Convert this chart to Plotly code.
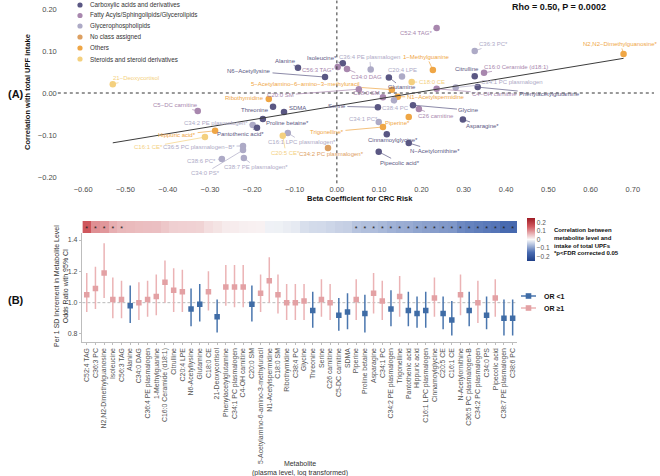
import numpy as np
import plotly.graph_objects as go

# ---------------- data ----------------
metabolites = [
    "C52:4 TAG", "C36:3 PC", "N2,N2-Dimethylguanosine", "Isoleucine", "C56:3 TAG",
    "Alanine", "C34:0 DAG", "C36:4 PE plasmalogen", "1-Methylguanine", "C16:0 Ceramide (d18:1)",
    "Citrulline", "C20:4 LPE", "N6-Acetyllysine", "Glutamine", "C18:0 CE",
    "21-Deoxycortisol", "Phenylacetylglutamine", "C34:1 PC plasmalogen", "C4-OH carnitine", "C20:0 SM",
    "5-Acetylamino-6-amino-3-methyluracil", "N1-Acetylspermidine", "C18:0 SM", "Ribothymidine", "C38:4 PC",
    "Glycine", "Threonine", "Serine", "C26 carnitine", "C5-DC carnitine",
    "SDMA", "Piperine", "Proline betaine", "Asparagine", "C34:1 PC",
    "C34:2 PE plasmalogen", "Trigonelline", "Pantothenic acid", "Hippuric acid", "C16:1 LPC plasmalogen",
    "Cinnamoylglycine", "C20:5 CE", "C16:1 CE", "N-Acetylornithine", "C36:5 PC plasmalogen-B",
    "C34:2 PC plasmalogen", "C34:0 PS", "Pipecolic acid", "C38:7 PE plasmalogen", "C38:6 PC",
]
metabolite_class = [
    "F", "G", "O", "C", "F",
    "C", "F", "G", "O", "F",
    "C", "G", "C", "C", "S",
    "S", "C", "G", "F", "F",
    "O", "O", "F", "O", "G",
    "C", "C", "C", "F", "F",
    "C", "O", "C", "C", "G",
    "G", "O", "C", "O", "G",
    "C", "S", "S", "C", "G",
    "N", "G", "C", "G", "G",
]
beta_crc = [
    0.236, 0.326, 0.678, 0.014, 0.002,
    -0.092, 0.024, 0.080, 0.227, 0.348,
    0.326, 0.154, -0.028, 0.123, 0.177,
    -0.530, 0.333, 0.281, 0.236, 0.052,
    0.130, 0.144, 0.109, -0.161, 0.135,
    0.180, -0.151, 0.097, 0.194, -0.329,
    -0.125, 0.170, -0.175, 0.298, 0.099,
    -0.199, 0.109, -0.189, -0.288, -0.116,
    0.118, -0.128, -0.312, 0.170, -0.222,
    -0.021, -0.222, 0.099, -0.220, -0.272,
]
corr_upf = [
    0.155, 0.100, 0.093, 0.071, 0.062,
    0.060, 0.057, 0.056, 0.055, 0.048,
    0.040, 0.039, 0.038, 0.037, 0.026,
    0.021, 0.014, 0.013, 0.010, 0.009,
    0.008, -0.009, -0.010, -0.014, -0.017,
    -0.029, -0.033, -0.034, -0.038, -0.043,
    -0.045, -0.057, -0.062, -0.063, -0.069,
    -0.076, -0.081, -0.083, -0.090, -0.095,
    -0.098, -0.102, -0.105, -0.119, -0.126,
    -0.131, -0.136, -0.140, -0.155, -0.157,
]
significant = [True] * 5 + [False] * 26 + [True] * 19
odds_ratio = [
    1.05, 1.09, 1.19, 1.02, 1.02, 0.98, 1.00, 1.02, 1.04, 1.13,
    1.08, 1.07, 0.96, 0.99, 1.07, 0.91, 1.10, 1.10, 1.10, 0.99,
    1.06, 1.14, 1.05, 1.00, 1.00, 1.01, 0.95, 1.02, 1.00, 0.92,
    0.94, 1.02, 0.93, 1.06, 1.01, 0.96, 1.04, 0.95, 0.93, 0.95,
    1.03, 0.93, 0.89, 1.05, 0.95, 1.00, 0.92, 1.03, 0.90, 0.90,
]
or_lower = [
    0.94, 0.96, 1.03, 0.90, 0.90, 0.87, 0.89, 0.91, 0.92, 1.00,
    0.94, 0.94, 0.85, 0.88, 0.95, 0.81, 0.98, 0.97, 0.97, 0.88,
    0.94, 1.00, 0.93, 0.89, 0.89, 0.89, 0.84, 0.91, 0.89, 0.82,
    0.83, 0.89, 0.81, 0.93, 0.89, 0.85, 0.91, 0.85, 0.84, 0.84,
    0.91, 0.83, 0.79, 0.92, 0.85, 0.87, 0.83, 0.91, 0.79, 0.79,
]
or_upper = [
    1.19, 1.23, 1.38, 1.16, 1.14, 1.11, 1.13, 1.14, 1.18, 1.27,
    1.22, 1.21, 1.09, 1.12, 1.20, 1.02, 1.24, 1.24, 1.24, 1.11,
    1.18, 1.29, 1.18, 1.12, 1.12, 1.12, 1.07, 1.15, 1.12, 1.03,
    1.06, 1.15, 1.05, 1.19, 1.14, 1.08, 1.17, 1.07, 1.04, 1.07,
    1.16, 1.04, 1.01, 1.18, 1.07, 1.14, 1.04, 1.15, 1.02, 1.02,
]
class_codes = ["C", "F", "G", "N", "O", "S"]
class_names = [
    "Carboxylic acids and derivatives",
    "Fatty Acyls/Sphingolipids/Glycerolipids",
    "Glycerophospholipids",
    "No class assigned",
    "Others",
    "Steroids and steroid derivatives",
]
stat_text = "Rho = 0.50, P = 0.0002"
x_ticks_a = [-0.6, -0.5, -0.4, -0.3, -0.2, -0.1, 0.0, 0.1, 0.2, 0.3, 0.4, 0.5, 0.6, 0.7]
y_ticks_a = [-0.2, -0.1, 0.0, 0.1, 0.2]
y_ticks_b = [0.8, 1.0, 1.2, 1.4]
cbar_ticks = [-0.2, -0.1, 0.0, 0.1, 0.2]

# ---------------- styling ----------------
W, H = 660, 476
FONT = "Liberation Sans, Arial, sans-serif"
class_colors = {"C": "#5A5783", "F": "#A887AE", "G": "#ADAAC6",
                "N": "#DDA062", "O": "#EFA645", "S": "#F4D07E"}
col_low, col_high = "#3F6CA6", "#E3A1A4"
whisk_low, whisk_high = "#4A76AE", "#EBB3B5"

# label offsets (pixels, label centre relative to point)
label_offsets = [
    (-21, 5), (19, -7), (-3, -10), (-21, -5), (-20, 3),
    (-12, -7), (19, 8), (-1, -12), (-6, -13), (32, -6),
    (-8, -7), (1, -7), (-76, -6), (13, 10), (20, 0),
    (23, -6), (72, 7), (56, -6), (58, 5), (-78, 6),
    (-86, -6), (38, 0), (-16, -4), (-24, -1), (2, 8),
    (56, 5), (-18, 3), (-41, -1), (17, 7), (-22, -6),
    (13, -4), (-11, 6), (25, 4), (20, 7), (-15, -3),
    (-37, -2), (-56, 5), (-16, 6), (-38, 4), (14, 9),
    (6, 6), (3, 17), (-56, 10), (26, 8), (-44, 1),
    (4, 6), (-38, 23), (21, 11), (12, 9), (-20, 2),
]


def px(x):
    return x / W


def py(y):
    return 1 - y / H


fig = go.Figure()

# ---------------- panel A ----------------
pt_colors = [class_colors[c] for c in metabolite_class]
fig.add_trace(go.Scatter(
    x=beta_crc, y=corr_upf, mode="markers", xaxis="x", yaxis="y",
    marker=dict(color=pt_colors, size=6.5, line=dict(width=0)),
    showlegend=False, hoverinfo="skip"))

slope, intercept = np.polyfit(beta_crc, corr_upf, 1)
fx = np.array([min(beta_crc), max(beta_crc)])
fig.add_trace(go.Scatter(
    x=fx, y=slope * fx + intercept, mode="lines", xaxis="x", yaxis="y",
    line=dict(color="#3C3C3C", width=1), showlegend=False, hoverinfo="skip"))

annotations = []
for i, name in enumerate(metabolites):
    lab = name.replace("-", "\u2212") + ("*" if significant[i] else "")
    c = class_colors[metabolite_class[i]]
    dx, dy = label_offsets[i]
    annotations.append(dict(
        x=beta_crc[i], y=corr_upf[i], xref="x", yref="y", text=lab,
        showarrow=True, ax=dx, ay=dy, arrowhead=0, arrowwidth=0.7,
        arrowcolor=c, standoff=2, font=dict(size=6, color=c, family=FONT)))

# ---------------- panel B ----------------
lo_idx = [i for i, v in enumerate(odds_ratio) if v < 1]
hi_idx = [i for i, v in enumerate(odds_ratio) if v >= 1]
for idx, mc, wc in [(hi_idx, col_high, whisk_high), (lo_idx, col_low, whisk_low)]:
    fig.add_trace(go.Scatter(
        x=[metabolites[i] for i in idx], y=[odds_ratio[i] for i in idx],
        mode="markers", xaxis="x2", yaxis="y2",
        marker=dict(color=mc, size=5.5, symbol="square"),
        error_y=dict(type="data", symmetric=False,
                     array=[or_upper[i] - odds_ratio[i] for i in idx],
                     arrayminus=[odds_ratio[i] - or_lower[i] for i in idx],
                     color=wc, thickness=1.5, width=0),
        showlegend=False, hoverinfo="skip"))

colorscale = [[0.0, "#1F3F88"], [0.2, "#4A6CB2"], [0.5, "#FAFAFA"],
              [0.8, "#D25A60"], [1.0, "#9E1B24"]]
fig.add_trace(go.Heatmap(
    x=metabolites, y=[0], z=[corr_upf], xaxis="x3", yaxis="y3",
    colorscale=colorscale, zmin=-0.25, zmax=0.25, hoverinfo="skip",
    colorbar=dict(x=px(527), xanchor="left", y=py(218), yanchor="top",
                  len=43 / H, thickness=8, xpad=0, ypad=0, outlinewidth=0,
                  tickvals=cbar_ticks, ticktext=["\u22120.2", "\u22120.1", "0", "0.1", "0.2"],
                  ticks="", ticklabelposition="outside",
                  tickfont=dict(size=6.5, color="#555555", family=FONT))))

sig_names = [m for m, s in zip(metabolites, significant) if s]
fig.add_trace(go.Scatter(
    x=sig_names, y=[-0.22] * len(sig_names), mode="text", text=["*"] * len(sig_names),
    textposition="middle center", textfont=dict(size=7, color="#222222", family=FONT),
    xaxis="x3", yaxis="y3", showlegend=False, hoverinfo="skip"))

# ---------------- shapes ----------------
shapes = [
    dict(type="line", xref="x", yref="y domain", x0=0, x1=0, y0=0, y1=1,
         line=dict(color="#333333", width=1, dash="3px,3px")),
    dict(type="line", xref="x domain", yref="y", x0=0, x1=1, y0=0, y1=0,
         line=dict(color="#333333", width=1, dash="3px,3px")),
    dict(type="line", xref="x2 domain", yref="y2", x0=0, x1=1, y0=1, y1=1,
         line=dict(color="#AAAAAA", width=0.8, dash="3px,2px"), layer="below"),
]

# top legend (manual)
leg_y = [5, 15.5, 26, 37, 48, 59]
for k, (code, nm) in enumerate(zip(class_codes, class_names)):
    shapes.append(dict(type="circle", xref="paper", yref="paper",
                       xsizemode="pixel", ysizemode="pixel",
                       xanchor=px(80), yanchor=py(leg_y[k]),
                       x0=-2.6, x1=2.6, y0=-2.6, y1=2.6,
                       fillcolor=class_colors[code], line=dict(width=0)))
    annotations.append(dict(x=px(88), y=py(leg_y[k]), xref="paper", yref="paper",
                            text=nm, showarrow=False, xanchor="left", yanchor="middle",
                            font=dict(size=6.3, color="#333333", family=FONT)))

# bottom legend (manual)
for yy, col, wc, txt in [(296, col_low, whisk_low, "OR &lt;1"), (308, col_high, whisk_high, "OR \u22651")]:
    shapes.append(dict(type="line", xref="paper", yref="paper",
                       x0=px(521), x1=px(536), y0=py(yy), y1=py(yy),
                       line=dict(color=wc, width=1.5)))
    shapes.append(dict(type="rect", xref="paper", yref="paper",
                       xsizemode="pixel", ysizemode="pixel",
                       xanchor=px(528.5), yanchor=py(yy),
                       x0=-2.8, x1=2.8, y0=-2.8, y1=2.8,
                       fillcolor=col, line=dict(width=0)))
    annotations.append(dict(x=px(542), y=py(yy), xref="paper", yref="paper",
                            text="<b>" + txt + "</b>", showarrow=False,
                            xanchor="left", yanchor="middle",
                            font=dict(size=7, color="#111111", family=FONT)))

# titles / text
annotations += [
    dict(x=px(608), y=py(7), xref="paper", yref="paper", xanchor="right", yanchor="middle",
         text="<b>" + stat_text + "</b>", showarrow=False,
         font=dict(size=9, color="#111111", family=FONT)),
    dict(x=px(360), y=py(198), xref="paper", yref="paper", xanchor="center", yanchor="middle",
         text="<b>Beta Coefficient for CRC Risk</b>", showarrow=False,
         font=dict(size=7.5, color="#111111", family=FONT)),
    dict(x=px(28), y=py(92), xref="paper", yref="paper", xanchor="center", yanchor="middle",
         text="<b>Correlation with total UPF intake</b>", showarrow=False, textangle=-90,
         font=dict(size=7.5, color="#111111", family=FONT)),
    dict(x=px(16), y=py(94), xref="paper", yref="paper", xanchor="center", yanchor="middle",
         text="<b>(A)</b>", showarrow=False, font=dict(size=11, color="#111111", family=FONT)),
    dict(x=px(16), y=py(300), xref="paper", yref="paper", xanchor="center", yanchor="middle",
         text="<b>(B)</b>", showarrow=False, font=dict(size=11, color="#111111", family=FONT)),
    dict(x=px(61), y=py(286), xref="paper", yref="paper", xanchor="center", yanchor="middle",
         text="Per 1 SD Increment in Metabolite Level<br>Odds Ratio with 95% CI",
         showarrow=False, textangle=-90,
         font=dict(size=7, color="#333333", family=FONT)),
    dict(x=px(300), y=py(468), xref="paper", yref="paper", xanchor="center", yanchor="middle",
         text="Metabolite<br>(plasma level, log transformed)", showarrow=False,
         font=dict(size=7, color="#333333", family=FONT)),
    dict(x=px(552), y=py(241), xref="paper", yref="paper", xanchor="left", yanchor="middle",
         text="<b>Correlation between<br>metabolite level and<br>intake of total UPFs<br>*p&lt;FDR corrected 0.05</b>",
         showarrow=False, align="left",
         font=dict(size=6, color="#111111", family=FONT)),
]

tickfont = dict(size=7.5, color="#4D4D4D", family=FONT)
fig.update_layout(
    width=W, height=H, margin=dict(l=0, r=0, t=0, b=0),
    paper_bgcolor="white", plot_bgcolor="white",
    font=dict(family=FONT),
    showlegend=False,
    xaxis=dict(domain=[px(57.8), px(654)], range=[-0.66, 0.75], anchor="y",
               tickvals=x_ticks_a, tickformat=".2f", showgrid=False, zeroline=False,
               showline=False, ticks="", tickfont=tickfont),
    yaxis=dict(domain=[py(183.3), py(0.6)], range=[-0.215, 0.22], anchor="x",
               tickvals=y_ticks_a, tickformat=".2f", showgrid=False, zeroline=False,
               showline=False, ticks="", tickfont=tickfont),
    xaxis2=dict(domain=[px(82.4), px(517)], anchor="y2", type="category",
                categoryorder="array", categoryarray=metabolites, range=[-0.5, 49.5],
                tickmode="array", tickvals=metabolites, ticktext=metabolites,
                tickangle=-90, showgrid=False, zeroline=False, showline=True,
                linecolor="#BDBDBD", linewidth=1, ticks="outside", ticklen=2.5,
                tickcolor="#BDBDBD", tickfont=dict(size=6.9, color="#555555", family=FONT)),
    yaxis2=dict(domain=[py(341.8), py(233)], range=[0.75, 1.445], anchor="x2",
                tickvals=y_ticks_b, tickformat=".1f", showgrid=False, zeroline=False,
                showline=True, linecolor="#BDBDBD", linewidth=1, ticks="outside",
                ticklen=2.5, tickcolor="#BDBDBD",
                tickfont=dict(size=7, color="#4D4D4D", family=FONT)),
    xaxis3=dict(domain=[px(82.4), px(517)], anchor="y3", type="category",
                categoryorder="array", categoryarray=metabolites, range=[-0.5, 49.5],
                visible=False),
    yaxis3=dict(domain=[py(233), py(221)], range=[-0.5, 0.5], anchor="x3", visible=False),
    shapes=shapes,
    annotations=annotations,
)

fig.write_html("out.html")
